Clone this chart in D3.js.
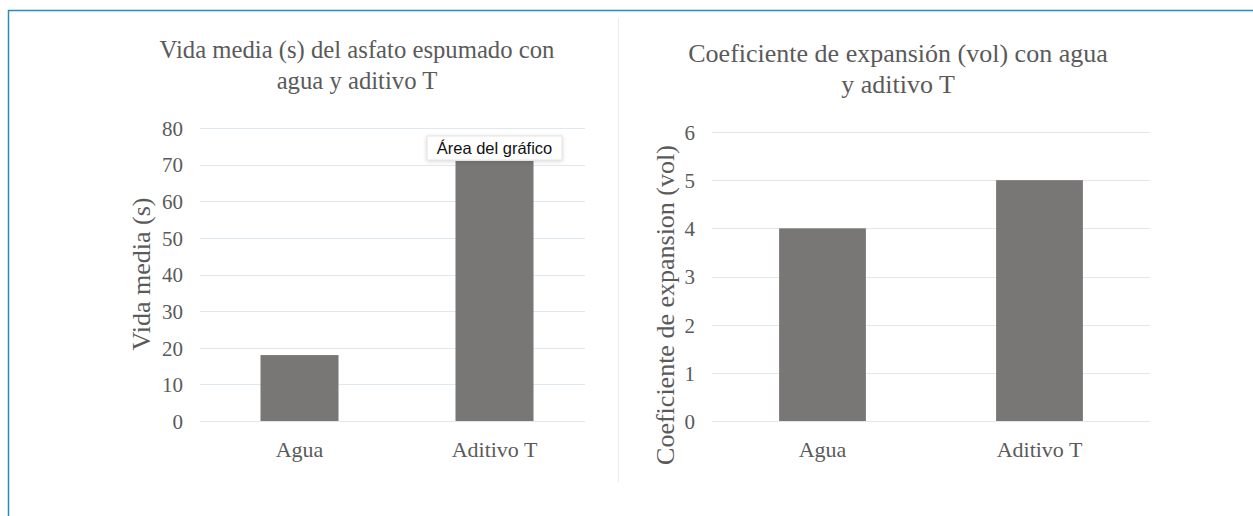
<!DOCTYPE html>
<html>
<head>
<meta charset="utf-8">
<script src="https://cdn.jsdelivr.net/npm/d3@7"></script>
<style>
  body { margin: 0; background: #fff; }
  text { font-family: "Liberation Serif", "Times New Roman", serif; fill: #5a5a5a; }
</style>
</head>
<body>
<div id="chart"></div>
<script>
var categories = ["Agua", "Aditivo T"];
var vidaMedia = [18, 71];
var coefExpansion = [4, 5];
var vidaTicks = [0, 10, 20, 30, 40, 50, 60, 70, 80];
var coefTicks = [0, 1, 2, 3, 4, 5, 6];

var svgWidth = 1253;
var svgHeight = 516;

var svg = d3.select("#chart")
    .append("svg")
    .attr("width", svgWidth)
    .attr("height", svgHeight);

// frame lines (top and left border of the figure)
svg.append("line")
    .attr("x1", 8).attr("x2", svgWidth).attr("y1", 10.5).attr("y2", 10.5)
    .attr("stroke", "#2a8ab8").attr("stroke-width", 1.5);
svg.append("line")
    .attr("x1", 8.5).attr("x2", 8.5).attr("y1", 10).attr("y2", svgHeight)
    .attr("stroke", "#2a8ab8").attr("stroke-width", 1.5);

// divider between the two panels
svg.append("line")
    .attr("x1", 618.5).attr("x2", 618.5).attr("y1", 18).attr("y2", 482)
    .attr("stroke", "#ececec").attr("stroke-width", 1);

function drawPanel(opts) {
    var g = svg.append("g");

    var xScale = d3.scaleBand()
        .domain(categories)
        .range(opts.xRange)
        .paddingInner(0.6)
        .paddingOuter(0.3);

    var yScale = d3.scaleLinear()
        .domain([0, d3.max(opts.ticks)])
        .range(opts.yRange);

    // gridlines
    g.selectAll(".grid")
        .data(opts.ticks)
        .enter()
        .append("line")
        .attr("x1", opts.gridX[0])
        .attr("x2", opts.gridX[1])
        .attr("y1", d => Math.round(yScale(d)) + 0.5)
        .attr("y2", d => Math.round(yScale(d)) + 0.5)
        .attr("stroke", "#dfe8ef")
        .attr("stroke-width", 1);

    // y axis tick labels
    var leftAxis = d3.axisLeft(yScale)
        .tickValues(opts.ticks)
        .tickFormat(d3.format("d"))
        .tickSize(0)
        .tickPadding(0);
    var ay = g.append("g")
        .attr("transform", `translate(${opts.tickX}, 0)`)
        .call(leftAxis);
    ay.select(".domain").remove();
    ay.selectAll("text")
        .attr("font-size", "21px")
        .attr("dy", "0.35em");

    // bars
    g.selectAll("rect")
        .data(opts.values)
        .enter()
        .append("rect")
        .attr("x", (d, i) => xScale(categories[i]))
        .attr("y", d => yScale(d))
        .attr("width", xScale.bandwidth())
        .attr("height", d => yScale(0) - yScale(d))
        .attr("fill", "#797776");

    // x axis labels
    var bottomAxis = d3.axisBottom(xScale).tickSize(0).tickPadding(0);
    var ax = g.append("g")
        .attr("transform", `translate(0, ${opts.labelY})`)
        .call(bottomAxis);
    ax.select(".domain").remove();
    ax.selectAll("text")
        .attr("y", 0)
        .attr("dy", 0)
        .attr("font-size", "22px");

    // title
    var title = g.append("text")
        .attr("text-anchor", "middle")
        .attr("font-size", opts.titleSize);
    opts.title.forEach(function (line, i) {
        title.append("tspan")
            .attr("x", opts.titleX)
            .attr("y", opts.titleY + i * 31)
            .text(line);
    });

    // y axis label
    g.append("text")
        .attr("transform", `translate(${opts.yLabelX}, ${opts.yLabelY}) rotate(-90)`)
        .attr("text-anchor", "middle")
        .attr("font-size", "26px")
        .text(opts.yLabel);

    return { g: g, xScale: xScale, yScale: yScale };
}

drawPanel({
    values: vidaMedia,
    ticks: vidaTicks,
    xRange: [202, 592],
    yRange: [421, 128],
    gridX: [200, 585],
    tickX: 183,
    labelY: 457,
    title: ["Vida media (s) del asfato espumado con", "agua y aditivo T"],
    titleSize: "24.7px",
    titleX: 357,
    titleY: 58,
    yLabel: "Vida media (s)",
    yLabelX: 150,
    yLabelY: 274
});

drawPanel({
    values: coefExpansion,
    ticks: coefTicks,
    xRange: [714, 1148],
    yRange: [421, 132],
    gridX: [712, 1150],
    tickX: 695,
    labelY: 457,
    title: ["Coeficiente de expansión (vol) con agua", "y aditivo T"],
    titleSize: "26px",
    titleX: 898,
    titleY: 62,
    yLabel: "Coeficiente de expansion (vol)",
    yLabelX: 674,
    yLabelY: 305
});

// hover tooltip captured in the picture
var tip = svg.append("g")
    .attr("transform", "translate(427, 136)");
tip.append("rect")
    .attr("width", 135)
    .attr("height", 24)
    .attr("fill", "#fff")
    .attr("stroke", "#e4e4e4")
    .style("filter", "drop-shadow(0 1px 2px rgba(0,0,0,0.15))");
tip.append("text")
    .attr("x", 67.5)
    .attr("y", 17.5)
    .attr("text-anchor", "middle")
    .attr("font-size", "16.5px")
    .style("font-family", "'Liberation Sans', Arial, sans-serif")
    .style("fill", "#111")
    .text("Área del gráfico");
</script>
</body>
</html>
